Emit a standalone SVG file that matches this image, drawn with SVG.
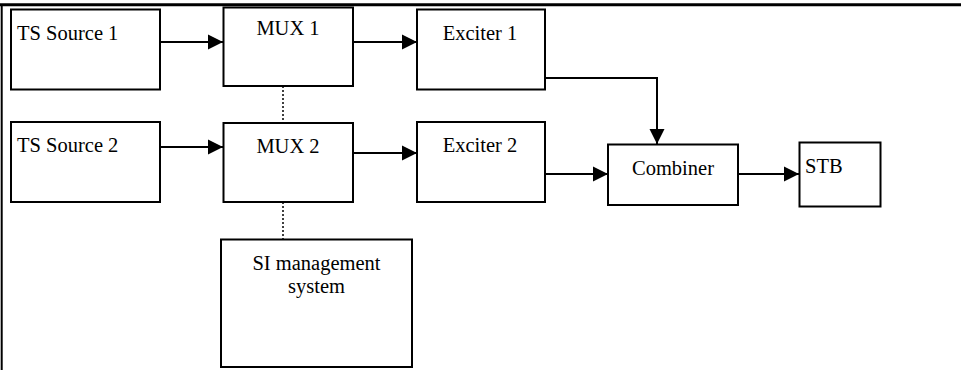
<svg xmlns="http://www.w3.org/2000/svg" width="961" height="370" viewBox="0 0 961 370">
<defs>
<style>
.box{fill:#fff;stroke:#000;stroke-width:2}
.lbl{font-family:'Liberation Serif','Times New Roman',Times,serif;font-size:20.5px;fill:#000}
.c{text-anchor:middle}
.ln{fill:none;stroke:#000;stroke-width:2}
.dot{fill:none;stroke:#000;stroke-width:1.5;stroke-dasharray:2 2}
</style>
<marker id="ah" markerUnits="userSpaceOnUse" markerWidth="16" markerHeight="16" viewBox="0 0 16 16" refX="15" refY="8" orient="auto">
<path d="M0,0.5 L15,8 L0,15.5 Z" fill="#000"/>
</marker>
</defs>
<rect x="0" y="0" width="961" height="370" fill="#fff"/>
<g id="frame">
<line x1="0" y1="4.7" x2="961" y2="4.7" stroke="#000" stroke-width="3"/>
<line x1="1.7" y1="4" x2="1.7" y2="370" stroke="#000" stroke-width="2"/>
</g>
<g id="connectors">
<line class="ln" x1="160" y1="42" x2="223" y2="42" marker-end="url(#ah)"/>
<line class="ln" x1="353" y1="42" x2="417" y2="42" marker-end="url(#ah)"/>
<line class="ln" x1="160" y1="147" x2="223" y2="147" marker-end="url(#ah)"/>
<line class="ln" x1="353" y1="153" x2="417" y2="153" marker-end="url(#ah)"/>
<path class="ln" d="M545,78 H657 V144" marker-end="url(#ah)"/>
<line class="ln" x1="545" y1="174" x2="608" y2="174" marker-end="url(#ah)"/>
<line class="ln" x1="736" y1="174" x2="799" y2="174" marker-end="url(#ah)"/>
<line class="dot" x1="283" y1="86" x2="283" y2="123"/>
<line class="dot" x1="283" y1="202" x2="283" y2="239"/>
</g>
<g id="ts1"><rect class="box" x="11" y="9.5" width="149" height="80"/><text class="lbl" x="17" y="40" font-family="Liberation Serif, serif">TS Source 1</text></g>
<g id="mux1"><rect class="box" x="223.5" y="7.5" width="129.5" height="78.5"/><text class="lbl c" x="288" y="35">MUX 1</text></g>
<g id="exc1"><rect class="box" x="417" y="9.5" width="128" height="80"/><text class="lbl c" x="480" y="40">Exciter 1</text></g>
<g id="ts2"><rect class="box" x="11" y="122" width="149" height="80"/><text class="lbl" x="17" y="152">TS Source 2</text></g>
<g id="mux2"><rect class="box" x="223.5" y="123" width="129.5" height="79"/><text class="lbl c" x="288" y="153">MUX 2</text></g>
<g id="exc2"><rect class="box" x="417" y="122" width="128" height="80"/><text class="lbl c" x="480" y="152">Exciter 2</text></g>
<g id="combiner"><rect class="box" x="608" y="144.5" width="130" height="60.5"/><text class="lbl c" x="673" y="175">Combiner</text></g>
<g id="stb"><rect class="box" x="799.5" y="142.5" width="81" height="64"/><text class="lbl" x="805" y="173">STB</text></g>
<g id="si"><rect class="box" x="221" y="239.5" width="191" height="127.5"/><text class="lbl c" x="316.5" y="270">SI management</text><text class="lbl c" x="316.5" y="293">system</text></g>
</svg>
